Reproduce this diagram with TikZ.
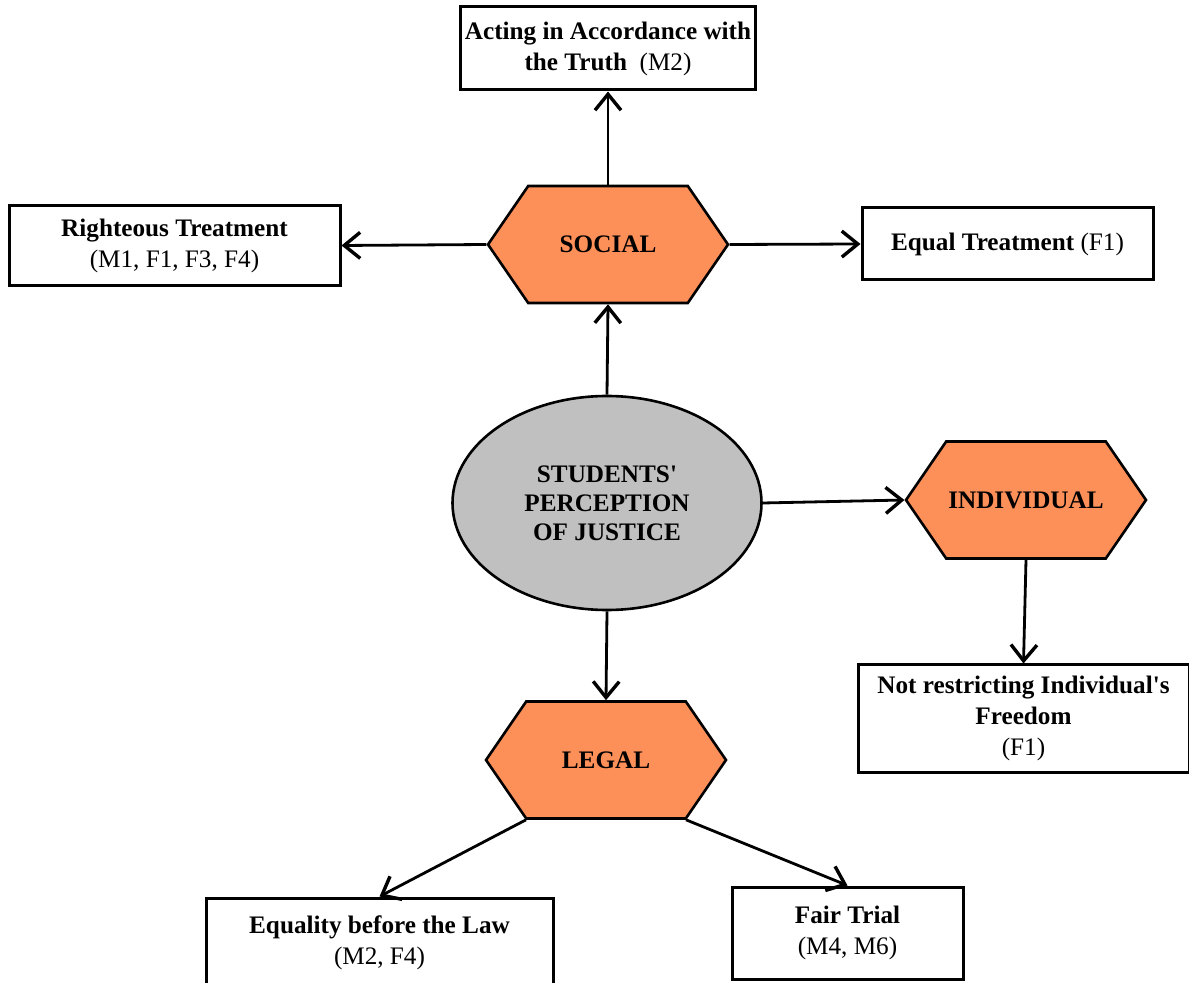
\documentclass[tikz,border=0pt]{standalone}
\usepackage{fontspec}
\setmainfont{Liberation Serif}
\usetikzlibrary{shapes.geometric,shapes.symbols,arrows.meta}
\definecolor{hexorange}{RGB}{253,143,89}
\definecolor{ovalgray}{RGB}{192,192,192}
\begin{document}
\begin{tikzpicture}[x=0.5pt,y=-0.5pt,
  every node/.style={font=\bfseries\fontsize{12.6}{15.5}\selectfont,align=center},
  theme/.style={signal,signal to=east and west,signal pointer angle=111,draw,line width=1.3pt,
    fill=hexorange,minimum width=120pt,minimum height=58.5pt,inner sep=0pt},
  finding/.style={draw,line width=1.5pt,fill=white,inner sep=0pt},
  link/.style={line width=1.4pt,-{Straight Barb[length=8pt,width=13pt,line width=1.7pt]}}]
  \useasboundingbox (0,0) rectangle (1189,983);

  % centre and the three themes
  \node[ellipse,draw,line width=1.3pt,fill=ovalgray,minimum width=154.5pt,minimum height=107pt,inner sep=0pt,
    font=\bfseries\fontsize{12.6}{14.5}\selectfont]
    (students) at (607,503) {STUDENTS\textquotesingle\\PERCEPTION\\OF JUSTICE};
  \node[theme] (social) at (608,244.5) {SOCIAL};
  \node[theme] (individual) at (1026,500) {INDIVIDUAL};
  \node[theme] (legal) at (606,760) {LEGAL};

  % findings
  \node[finding,minimum width=147.5pt,minimum height=41.5pt] (truth) at (608,48.5)
    {Acting in Accordance with\\the Truth\ \ {\mdseries(M2)}};
  \node[finding,minimum width=165.5pt,minimum height=40pt] (righteous) at (174.5,245.5)
    {Righteous Treatment\\{\mdseries(M1, F1, F3, F4)}};
  \node[finding,minimum width=145.5pt,minimum height=36pt] (equal) at (1007.5,244)
    {Equal Treatment {\mdseries(F1)}};
  \node[finding,minimum width=165.5pt,minimum height=53.5pt] (freedom) at (1023.5,718.5)
    {Not restricting Individual\textquotesingle s\\Freedom\\{\mdseries(F1)}};
  \node[finding,minimum width=173.5pt,minimum height=45pt] (equality) at (379.5,943)
    {Equality before the Law\\{\mdseries(M2, F4)}};
  \node[finding,minimum width=115.5pt,minimum height=46pt] (trial) at (847.5,933)
    {Fair Trial\\{\mdseries(M4, M6)}};

  \draw[link] (students.north) -- (social.south);
  \draw[link] (social.north) -- (truth.south);
  \draw[link] (social.west) -- (righteous.east);
  \draw[link] (social.east) -- (equal.west);
  \draw[link] (students.east) -- (individual.west);
  \draw[link] (individual.south) -- (freedom.north);
  \draw[link] (students.south) -- (legal.north);
  \draw[link] ([xshift=-40pt]legal.south) -- (equality.north);
  \draw[link] ([xshift=40pt]legal.south) -- (trial.north);
\end{tikzpicture}
\end{document}
